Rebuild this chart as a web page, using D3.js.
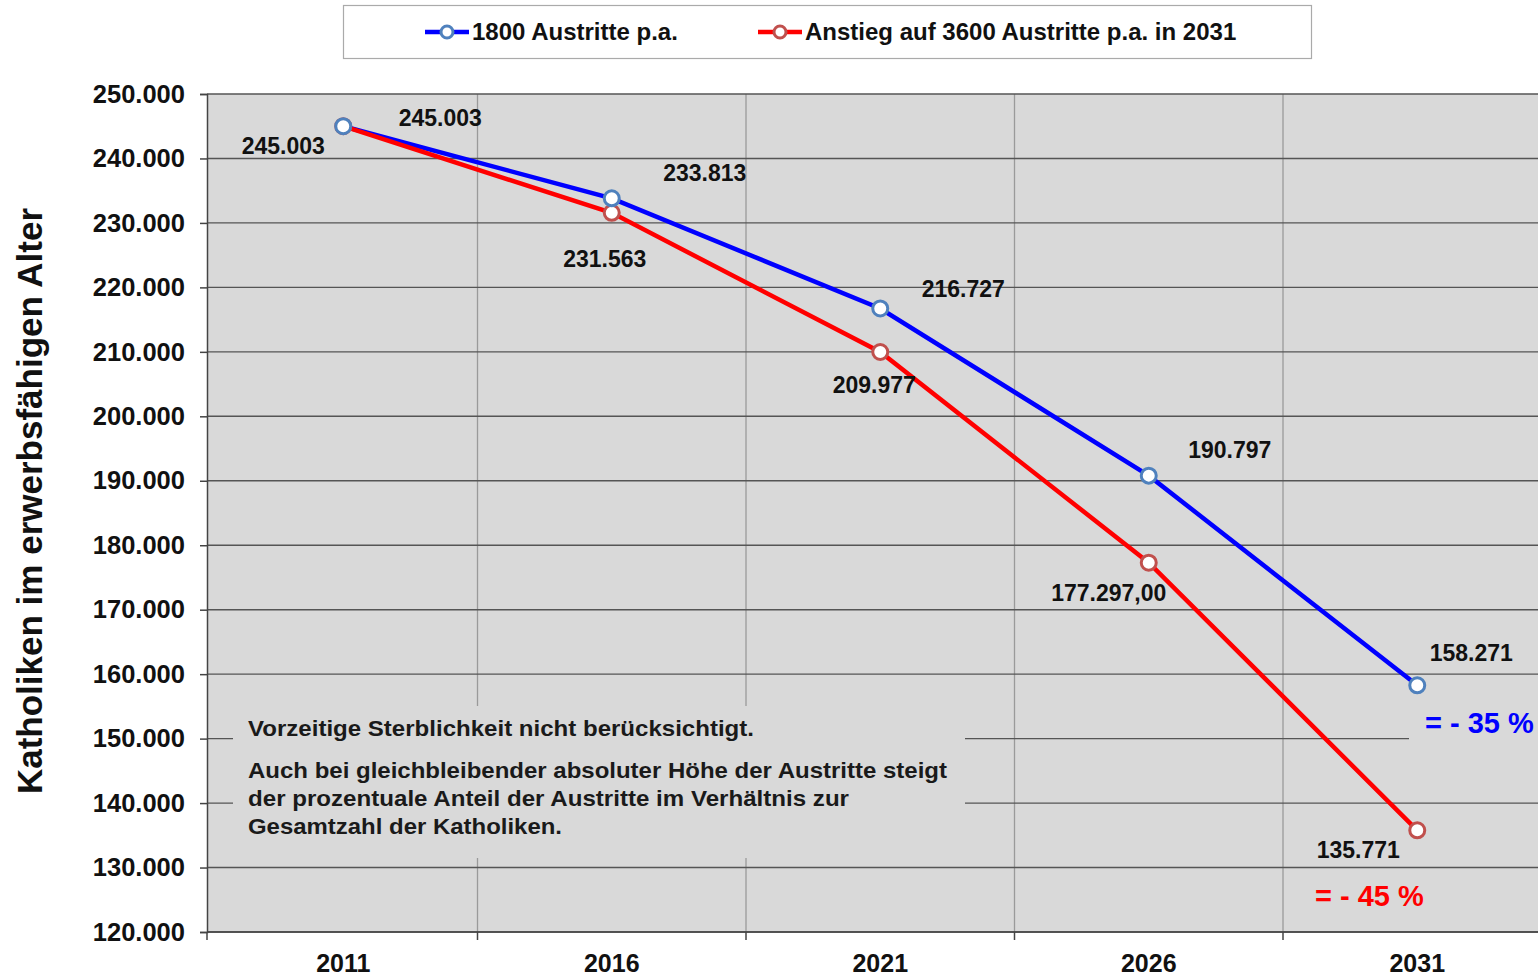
<!DOCTYPE html>
<html><head><meta charset="utf-8">
<script src="https://cdn.jsdelivr.net/npm/d3@7/dist/d3.min.js"></script>
<style>body{margin:0;background:#fff;}svg{display:block;font-family:"Liberation Sans",Arial,sans-serif;}</style>
</head><body><svg id="c" width="1538" height="977"></svg>
<script>
const years = ["2011","2016","2021","2026","2031"];
const seriesNames = ["1800 Austritte p.a.", "Anstieg auf 3600 Austritte p.a. in 2031"];
const blueValues = [245003, 233813, 216727, 190797, 158271];
const redValues  = [245003, 231563, 209977, 177297, 135771];
const redLabelDecimals = [0, 0, 0, 2, 0];
const yTicks = [120000,130000,140000,150000,160000,170000,180000,190000,200000,210000,220000,230000,240000,250000];
const yTitle = "Katholiken im erwerbsfähigen Alter";
const noteLines = ["Vorzeitige Sterblichkeit nicht berücksichtigt.",
  "Auch bei gleichbleibender absoluter Höhe der Austritte steigt",
  "der prozentuale Anteil der Austritte im Verhältnis zur",
  "Gesamtzahl der Katholiken."];
const changeLabels = ["= - 35 %", "= - 45 %"];

// layout (px)
const blueLabelOff = [[97,-8],[93,-25],[83,-19],[81,-26],[54,-32]];
const redLabelOff  = [[-60,20],[-7,46],[-6,33],[-40,30],[-59,20]];
const noteY = [736, 778, 806, 834];
const noteLen = [506, 699, 601, 314];

const de = d3.formatLocale({decimal:",", thousands:".", grouping:[3], currency:["","€"]});
const f0 = de.format(",.0f"), f2 = de.format(",.2f");

const svg = d3.select("#c");
const L = 207, T = 94, B = 932, R = 1538;
const x = d3.scaleBand().domain(years).range([L + 2, L + 2 + 5*268.5]);
const y = d3.scaleLinear().domain([120000, 250000]).range([B, T]);
const cx = d => x(d) + x.bandwidth()/2;
const boundaries = [L].concat(years.slice(1).map(d => x(d)));

svg.append("defs").append("clipPath").attr("id","pc").append("rect")
  .attr("x",L).attr("y",T-10).attr("width",R-L).attr("height",B-T+20);

svg.append("rect").attr("x",L).attr("y",T).attr("width",R-L).attr("height",B-T).attr("fill","#d9d9d9");

const g = svg.append("g").attr("clip-path","url(#pc)");
g.selectAll(".vg").data(boundaries.slice(1)).join("line")
  .attr("x1",d=>d).attr("x2",d=>d).attr("y1",T).attr("y2",B)
  .attr("stroke","#9a9a9a").attr("stroke-width",1.3);
g.selectAll(".hg").data(yTicks).join("line")
  .attr("x1",L).attr("x2",R).attr("y1",d=>y(d)).attr("y2",d=>y(d))
  .attr("stroke","#555").attr("stroke-width",1.4);

// note box (covers gridlines)
svg.append("rect").attr("x",233).attr("y",706).attr("width",732).attr("height",152).attr("fill","#d9d9d9");
const note = svg.append("g").attr("font-size",22).attr("font-weight","bold").attr("fill","#1a1a1a");
noteLines.forEach((t,i)=> note.append("text").attr("x",248).attr("y",noteY[i])
  .attr("textLength",noteLen[i]).attr("lengthAdjust","spacingAndGlyphs").text(t));

// box behind change label covering gridline
svg.append("rect").attr("x",1409).attr("y",703).attr("width",R-1409).attr("height",42).attr("fill","#d9d9d9");

// axes
const yAxis = svg.append("g").attr("transform",`translate(${L},0)`)
  .call(d3.axisLeft(y).tickValues(yTicks).tickFormat(f0).tickSize(7).tickPadding(15));
yAxis.select(".domain").attr("stroke","#444").attr("stroke-width",1.5);
yAxis.selectAll(".tick line").attr("stroke","#444").attr("stroke-width",1.5);
yAxis.selectAll("text").attr("font-size",25.5).attr("font-weight","bold").attr("fill","#111")
  .attr("font-family","Liberation Sans, Arial, sans-serif");

const xAxis = svg.append("g").attr("transform",`translate(0,${B})`);
xAxis.append("line").attr("x1",L).attr("x2",R).attr("y1",0).attr("y2",0).attr("stroke","#444").attr("stroke-width",1.5);
xAxis.selectAll(".xt").data(boundaries).join("line")
  .attr("x1",d=>d).attr("x2",d=>d).attr("y1",0).attr("y2",8).attr("stroke","#444").attr("stroke-width",1.5);
xAxis.selectAll(".xl").data(years).join("text")
  .attr("x",d=>cx(d)).attr("y",40).attr("text-anchor","middle")
  .attr("font-size",25).attr("font-weight","bold").attr("fill","#111").text(d=>d);

svg.append("text").attr("transform","translate(42,501) rotate(-90)").attr("text-anchor","middle")
  .attr("font-size",35).attr("font-weight","bold").attr("fill","#111").text(yTitle);

// lines
const line = d3.line().x((d,i)=>cx(years[i])).y(d=>y(d));
svg.append("path").datum(blueValues).attr("d",line).attr("fill","none").attr("stroke","#0000ff").attr("stroke-width",4.5);
svg.append("path").datum(redValues).attr("d",line).attr("fill","none").attr("stroke","#ff0000").attr("stroke-width",4.5);

function markers(vals, col){
  svg.append("g").selectAll("circle").data(vals).join("circle")
    .attr("cx",(d,i)=>cx(years[i])).attr("cy",d=>y(d)).attr("r",7.5)
    .attr("fill","#fff").attr("stroke",col).attr("stroke-width",3);
}
markers(redValues,"#c0504d");
markers(blueValues,"#4f81bd");

function labels(vals, off, fmtFn){
  svg.append("g").selectAll("text").data(vals).join("text")
    .attr("x",(d,i)=>cx(years[i])+off[i][0]).attr("y",(d,i)=>y(d)+off[i][1]+8)
    .attr("text-anchor","middle").attr("font-size",23).attr("font-weight","bold").attr("fill","#111")
    .text((d,i)=>fmtFn(d,i));
}
labels(blueValues, blueLabelOff, d=>f0(d));
labels(redValues, redLabelOff, (d,i)=> redLabelDecimals[i] ? f2(d) : f0(d));

svg.append("text").attr("x",1425).attr("y",733).attr("font-size",29).attr("font-weight","bold")
  .attr("fill","#0000ff").text(changeLabels[0]);
svg.append("text").attr("x",1315).attr("y",906).attr("font-size",29).attr("font-weight","bold")
  .attr("fill","#ff0000").text(changeLabels[1]);

// legend
svg.append("rect").attr("x",343.5).attr("y",5.5).attr("width",968).attr("height",53)
  .attr("fill","#fff").attr("stroke","#aaa").attr("stroke-width",1.2);
const leg = [{x:425, name:seriesNames[0], c:"#0000ff", m:"#4f81bd"},{x:758, name:seriesNames[1], c:"#ff0000", m:"#c0504d"}];
leg.forEach(l=>{
  svg.append("line").attr("x1",l.x).attr("x2",l.x+44).attr("y1",32).attr("y2",32).attr("stroke",l.c).attr("stroke-width",4.5);
  svg.append("circle").attr("cx",l.x+22).attr("cy",32).attr("r",6).attr("fill","#fff").attr("stroke",l.m).attr("stroke-width",3);
  svg.append("text").attr("x",l.x+47).attr("y",40).attr("font-size",24).attr("font-weight","bold").attr("fill","#111").text(l.name);
});
</script></body></html>
